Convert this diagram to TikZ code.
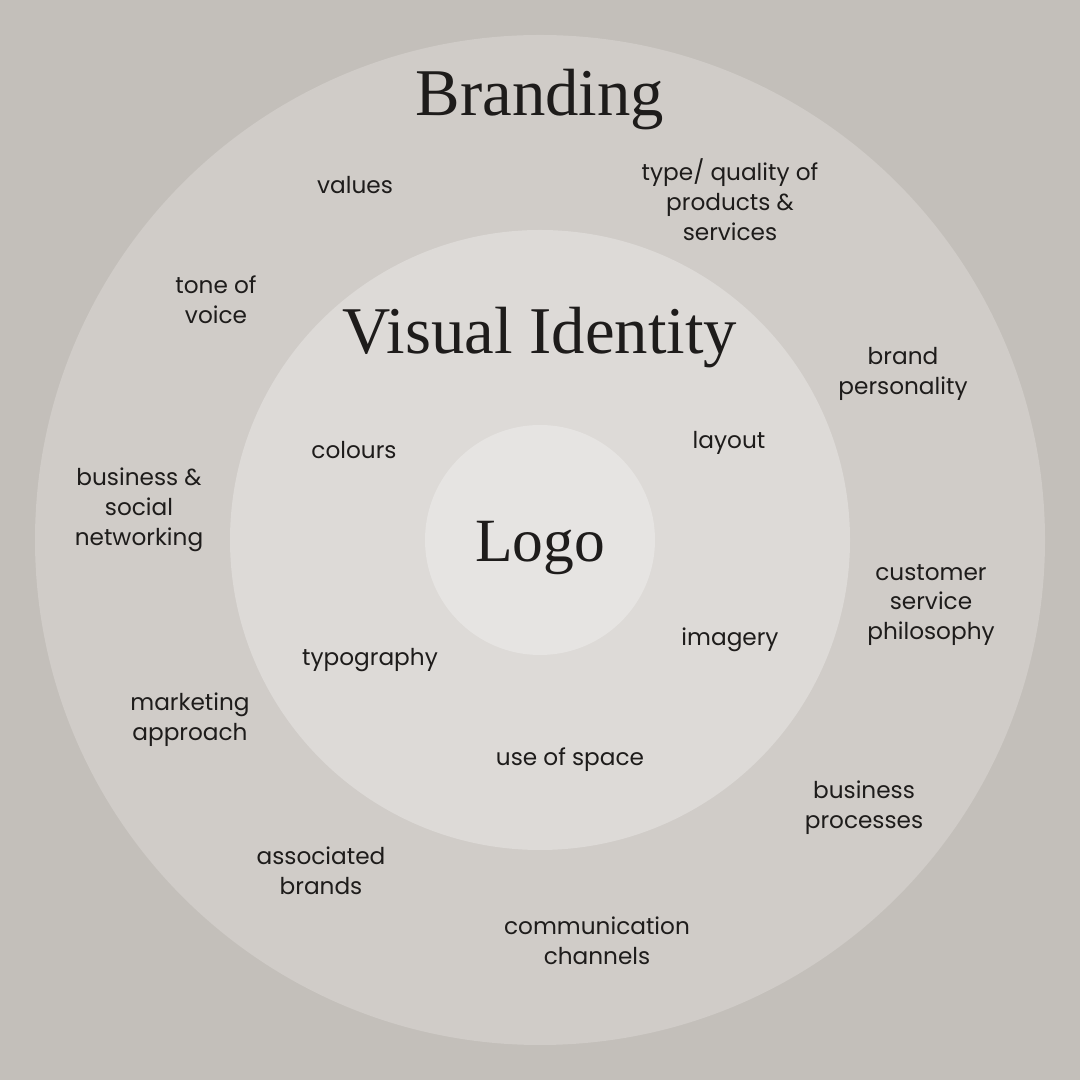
\documentclass[tikz,border=0pt]{standalone}
\usepackage{fontspec}
\newfontfamily\labelfont{Poppins}
\newfontfamily\headfont{Liberation Serif}
\usepackage{tikz}
\definecolor{bggrey}{HTML}{C3BFBA}
\definecolor{ringout}{HTML}{D0CCC8}
\definecolor{ringmid}{HTML}{DDDAD7}
\definecolor{ringin}{HTML}{E6E4E2}
\definecolor{inkgrey}{HTML}{1E1C1B}
\begin{document}
\begin{tikzpicture}[
  item/.style={align=center,text=inkgrey,font=\labelfont\fontsize{6.6}{8.5}\selectfont},
  title/.style={text=inkgrey,font=\headfont\fontsize{19}{22}\selectfont}]
 \fill[bggrey] (0,0) rectangle (10.8,10.8);
 \useasboundingbox (0,0) rectangle (10.8,10.8);
 \fill[ringout] (5.4,5.4) circle (5.05);
 \fill[ringmid] (5.4,5.4) circle (3.10);
 \fill[ringin] (5.4,5.4) circle (1.15);
 % headings
 \node[title] at (5.40,9.80)(brand){Branding};
 \node[title] at (5.40,7.42)(visid){Visual Identity};
 \node[title,font=\headfont\fontsize{17.5}{21}\selectfont] at (5.40,5.32)(logo){Logo};
 % outer ring
 \node[item] at (3.55,8.95)(values){values};
 \node[item] at (7.30,8.80)(quality){type/ quality of\\products \&\\services};
 \node[item] at (2.16,7.80)(tone){tone of\\voice};
 \node[item] at (9.03,7.06)(persona){brand\\personality};
 \node[item] at (1.39,5.70)(network){business \&\\social\\networking};
 \node[item] at (9.31,4.75)(service){customer\\service\\philosophy};
 \node[item] at (1.90,3.60)(market){marketing\\approach};
 \node[item] at (8.64,2.72)(process){business\\processes};
 \node[item] at (3.21,2.09)(assoc){associated\\brands};
 \node[item] at (5.97,1.39)(channel){communication\\channels};
 % middle ring
 \node[item] at (7.29,6.37)(layout){layout};
 \node[item] at (3.54,6.30)(colours){colours};
 \node[item] at (7.30,4.40)(imagery){imagery};
 \node[item] at (3.70,4.20)(typo){typography};
 \node[item] at (5.70,3.20)(space){use of space};
\end{tikzpicture}
\end{document}
